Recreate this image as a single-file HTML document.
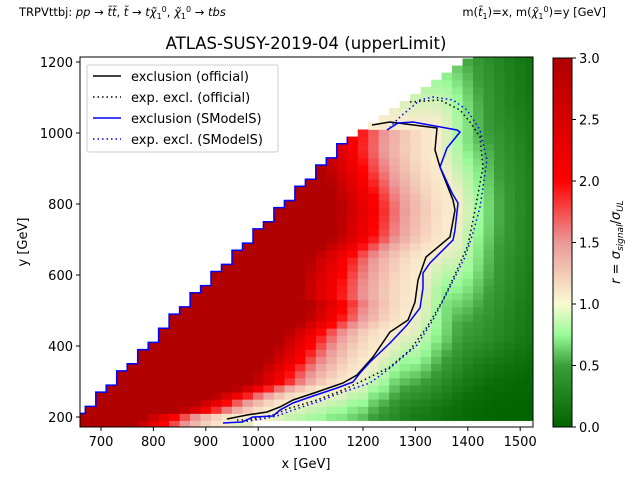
<!DOCTYPE html>
<html><head><meta charset="utf-8"><style>
body{margin:0;background:#fff}
svg text{font-family:"DejaVu Sans","Liberation Sans",sans-serif;fill:#000}
</style></head><body>
<svg id="s" width="640" height="480" xmlns="http://www.w3.org/2000/svg">
<defs>
<linearGradient id="cb" x1="0" y1="1" x2="0" y2="0">
<stop offset="0" stop-color="#006400"/>
<stop offset="0.1667" stop-color="#3a9e3a"/>
<stop offset="0.25" stop-color="#98fb98"/>
<stop offset="0.3333" stop-color="#fafad2"/>
<stop offset="0.5" stop-color="#eb9999"/>
<stop offset="0.6667" stop-color="#ff0000"/>
<stop offset="1" stop-color="#b00000"/>
</linearGradient>
<clipPath id="pc"><rect x="80" y="57" width="453" height="370"/></clipPath>
</defs>
<g id="heat" clip-path="url(#pc)"></g>
<g id="lines" clip-path="url(#pc)" fill="none" stroke-width="1.5">
<polyline stroke="#000" points="227,419 247,415 267,412 280,407 293,400 317,392 343,383 357,375 373,357 390,332 408,320 415,302 418,280 426,257 450,237 455,210 453,200 440,167 435,150 437,128 390,122 372,125"/>
<polyline stroke="#000" stroke-dasharray="1.5,3" points="237,420 247,420 273,415 290,408 317,400 343,390 360,382 370,377 390,367 410,350 427,327 443,300 457,270 468,245 475,210 483,167 480,137 470,122 460,110 440,100 410,102"/>
<polyline stroke="#00f" points="223,423 242,422 253,417 273,416 280,410 293,403 313,396 337,388 353,382 360,373 370,362 390,343 407,325 420,308 423,288 423,273 430,263 453,240 455,230 458,203 452,193 440,167 447,148 460,132 457,130 413,122 398,123 387,130"/>
<polyline id="stair" stroke="#00f" points=""/>
<polyline stroke="#00f" stroke-dasharray="1.5,3" points="242,422 262,419 277,416 293,410 317,402 343,392 370,383 390,368 417,345 433,320 450,287 465,257 473,233 480,207 487,160 480,130 467,110 453,100 433,97 420,100 400,117 390,127"/>
</g>
<rect x="80" y="57" width="453" height="370" fill="none" stroke="#000" stroke-width="1"/>
<g id="ticks" stroke="#000" stroke-width="1"></g>
<g font-size="13px">
<text x="101" y="446" text-anchor="middle">700</text>
<text x="153.4" y="446" text-anchor="middle">800</text>
<text x="205.8" y="446" text-anchor="middle">900</text>
<text x="258.2" y="446" text-anchor="middle">1000</text>
<text x="310.6" y="446" text-anchor="middle">1100</text>
<text x="363" y="446" text-anchor="middle">1200</text>
<text x="415.4" y="446" text-anchor="middle">1300</text>
<text x="467.8" y="446" text-anchor="middle">1400</text>
<text x="520.2" y="446" text-anchor="middle">1500</text>
<text x="73" y="422" text-anchor="end">200</text>
<text x="73" y="351" text-anchor="end">400</text>
<text x="73" y="280" text-anchor="end">600</text>
<text x="73" y="209" text-anchor="end">800</text>
<text x="73" y="138" text-anchor="end">1000</text>
<text x="73" y="67" text-anchor="end">1200</text>
<text x="306" y="468" text-anchor="middle">x [GeV]</text>
<text transform="translate(27,242) rotate(-90)" text-anchor="middle">y [GeV]</text>
</g>
<text x="306" y="49" font-size="16.5px" text-anchor="middle">ATLAS-SUSY-2019-04 (upperLimit)</text>
<text x="19" y="16" font-size="11.5px">TRPVttbj: <tspan font-style="italic">pp</tspan> → <tspan font-style="italic">t̃t̃</tspan>, <tspan font-style="italic">t̃</tspan> → <tspan font-style="italic">tχ̃</tspan><tspan font-size="8px" dy="3">1</tspan><tspan font-size="8px" dy="-7">0</tspan><tspan dy="4">, </tspan><tspan font-style="italic">χ̃</tspan><tspan font-size="8px" dy="3">1</tspan><tspan font-size="8px" dy="-7">0</tspan><tspan dy="4"> → </tspan><tspan font-style="italic">tbs</tspan></text>
<text x="606" y="16" font-size="11.5px" text-anchor="end">m(<tspan font-style="italic">t̃</tspan><tspan font-size="8px" dy="3">1</tspan><tspan dy="-3">)=x, m(</tspan><tspan font-style="italic">χ̃</tspan><tspan font-size="8px" dy="3">1</tspan><tspan font-size="8px" dy="-7">0</tspan><tspan dy="4">)=y [GeV]</tspan></text>
<rect x="87" y="65" width="191" height="87" fill="#fff" fill-opacity="0.8" stroke="#ccc" rx="2"/>
<g stroke-width="1.5">
<line x1="93" y1="76" x2="121" y2="76" stroke="#000"/>
<line x1="93" y1="97" x2="121" y2="97" stroke="#000" stroke-dasharray="1.5,3"/>
<line x1="93" y1="118" x2="121" y2="118" stroke="#00f"/>
<line x1="93" y1="139" x2="121" y2="139" stroke="#00f" stroke-dasharray="1.5,3"/>
</g>
<g font-size="13px">
<text x="131" y="81">exclusion (official)</text>
<text x="131" y="102">exp. excl. (official)</text>
<text x="131" y="123">exclusion (SModelS)</text>
<text x="131" y="144">exp. excl. (SModelS)</text>
</g>
<rect x="553" y="58" width="19" height="369" fill="url(#cb)" stroke="#000" stroke-width="1"/>
<g font-size="13px">
<text x="579" y="432">0.0</text>
<text x="579" y="370.5">0.5</text>
<text x="579" y="309">1.0</text>
<text x="579" y="247.5">1.5</text>
<text x="579" y="186">2.0</text>
<text x="579" y="124.5">2.5</text>
<text x="579" y="63">3.0</text>
</g>
<text transform="translate(620,242) rotate(-90)" font-size="13px" text-anchor="middle"><tspan font-style="italic">r</tspan> = <tspan font-style="italic">σ</tspan><tspan font-size="9px" dy="3" font-style="italic">signal</tspan><tspan dy="-3">/</tspan><tspan font-style="italic">σ</tspan><tspan font-size="9px" dy="3" font-style="italic">UL</tspan></text>
</svg>
<script>
(function(){
function X(g){return 101+(g-700)*0.524;}
function Y(g){return 417-(g-200)*0.355;}
var curve=[[227,419],[247,415],[267,412],[280,407],[293,400],[317,392],[343,383],[357,375],[373,357],[390,332],[408,320],[415,302],[418,280],[426,257],[450,237],[455,210],[453,200],[440,167],[435,150],[437,128],[390,122],[372,125]];
var mono=curve.slice(0,20);
function x1(py){
 for(var i=0;i<mono.length-1;i++){var a=mono[i],b=mono[i+1];
  if((py<=a[1]&&py>=b[1])){var t=(a[1]-py)/(a[1]-b[1]||1);return a[0]+t*(b[0]-a[0]);}}
 return null;}
function dist(px,py){var m=1e9;
 for(var i=0;i<curve.length-1;i++){var a=curve[i],b=curve[i+1];
  var dx=b[0]-a[0],dy=b[1]-a[1],L=dx*dx+dy*dy,t=((px-a[0])*dx+(py-a[1])*dy)/L;
  t=Math.max(0,Math.min(1,t));var ex=a[0]+t*dx-px,ey=(a[1]+t*dy-py)*0.5;var d=Math.sqrt(ex*ex+ey*ey);if(d<m)m=d;}
 return m;}
var stops=[[0,[0,100,0]],[0.5,[58,158,58]],[0.75,[152,251,152]],[1,[250,235,205]],[1.5,[235,153,153]],[2,[255,0,0]],[3,[176,0,0]]];
function col(r){r=Math.max(0,Math.min(3,r));
 for(var i=0;i<stops.length-1;i++){if(r<=stops[i+1][0]){var a=stops[i],b=stops[i+1],t=(r-a[0])/(b[0]-a[0]);
  return "rgb("+[0,1,2].map(function(k){return Math.round(a[1][k]+t*(b[1][k]-a[1][k]));}).join(",")+")";}}
 return "rgb(176,0,0)";}
function xmin(py){return Math.max(83+(412-py)*0.965,470-(py-57)*1.45);}
var g=document.getElementById("heat");var html="";
var stairPts=[];
for(var yg=170;yg<1220;yg+=20){
 var top=Y(yg+20),bot=Y(yg),cy=(top+bot)/2;
 var xm=xmin(cy);var first=null;
 for(var xg=650;xg<1520;xg+=20){
  var l=X(xg),r=X(xg+20),cx=(l+r)/2;
  if(cx<xm)continue;
  if(yg<190&&cx>248)continue;
  if(first===null)first=l;
  var rv,inside,hd;
  if(cy>419){inside=cx<227;hd=227-cx;}
  else if(cy<125){inside=false;}
  else{var xx=x1(cy);inside=xx!==null&&cx<xx;hd=xx-cx;}
  if(inside){var dd=cy>380?62:(cy>300?70:78);rv=1+Math.pow(hd/dd,1.7);}
  else{var d=dist(cx,cy);var sc=cy<340?62:Math.max(35,62-(cy-340)*0.4);rv=Math.exp(-Math.pow(d/sc,1.4));}
  html+='<rect x="'+l.toFixed(2)+'" y="'+top.toFixed(2)+'" width="'+(r-l+0.4).toFixed(2)+'" height="'+(bot-top+0.4).toFixed(2)+'" fill="'+col(rv)+'"/>';
 }
 if(first!==null&&cy>140){stairPts.push([first,bot],[first,top]);}
}
g.innerHTML=html;
var s=stairPts.filter(function(p){return p[1]<=414;});
document.getElementById("stair").setAttribute("points",s.map(function(p){return p[0].toFixed(1)+","+p[1].toFixed(1);}).join(" "));
var t=document.getElementById("ticks"),th="";
for(var v=700;v<=1500;v+=100){var x=X(v);th+='<line x1="'+x+'" y1="427" x2="'+x+'" y2="431"/>';}
for(var v=200;v<=1200;v+=200){var y=Y(v);th+='<line x1="76" y1="'+y+'" x2="80" y2="'+y+'"/>';}
for(var k=0;k<=6;k++){var y=427-k*61.5;th+='<line x1="572" y1="'+y+'" x2="576" y2="'+y+'"/>';}
t.innerHTML=th;
})();
</script>
</body></html>
